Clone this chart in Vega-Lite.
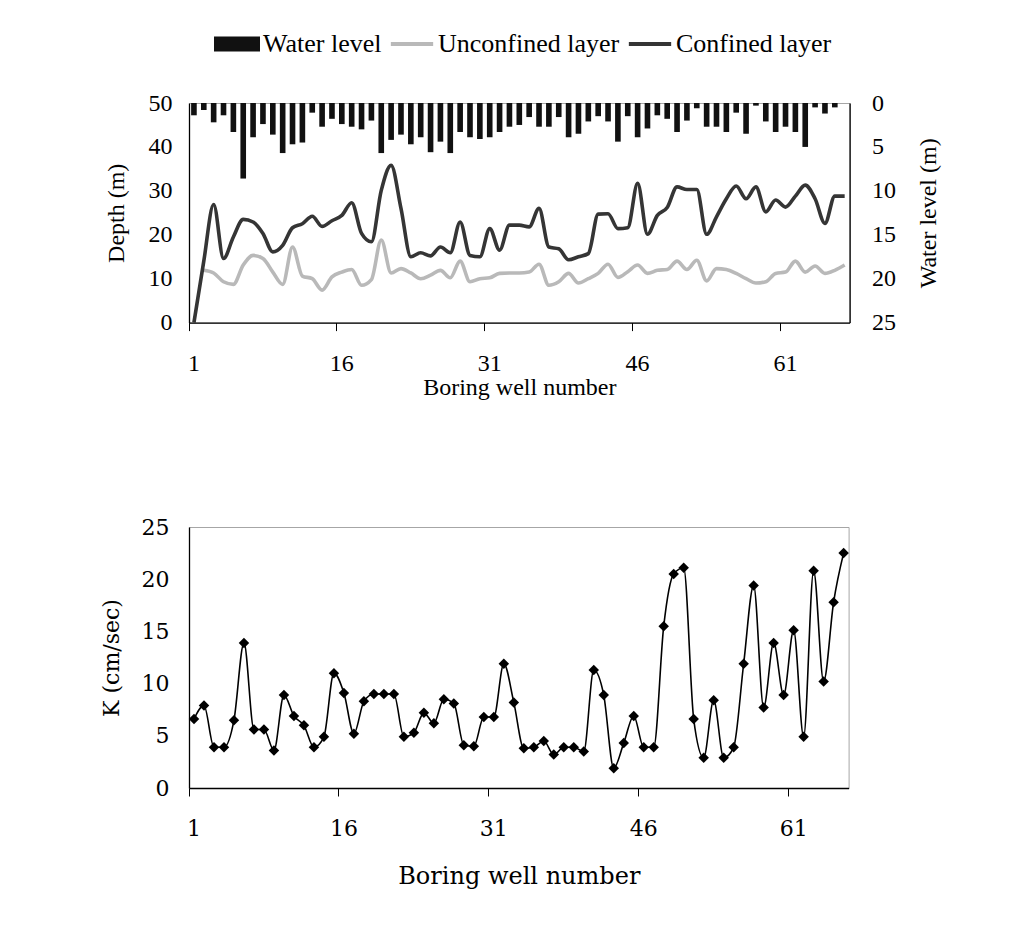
{
  "$schema": "https://vega.github.io/schema/vega-lite/v6.json",
  "background": "white",
  "padding": {"left": 99, "top": 21, "right": 10, "bottom": 10},
  "datasets": {
    "top": [
      {"well": 1, "water": 1.4, "unconfined": null, "confined": 0},
      {"well": 2, "water": 0.8, "unconfined": 11.9, "confined": 14},
      {"well": 3, "water": 2.2, "unconfined": 11.3, "confined": 26.9},
      {"well": 4, "water": 1.4, "unconfined": 9.3, "confined": 14.6},
      {"well": 5, "water": 3.3, "unconfined": 8.7, "confined": 19.5},
      {"well": 6, "water": 8.6, "unconfined": 13.1, "confined": 23.5},
      {"well": 7, "water": 3.9, "unconfined": 15.3, "confined": 22.9},
      {"well": 8, "water": 2.4, "unconfined": 14.6, "confined": 20.3},
      {"well": 9, "water": 3.6, "unconfined": 11.5, "confined": 16.1},
      {"well": 10, "water": 5.7, "unconfined": 8.7, "confined": 17.6},
      {"well": 11, "water": 4.7, "unconfined": 17.2, "confined": 21.6},
      {"well": 12, "water": 4.5, "unconfined": 10.6, "confined": 22.5},
      {"well": 13, "water": 1.1, "unconfined": 10.0, "confined": 24.2},
      {"well": 14, "water": 2.7, "unconfined": 7.4, "confined": 21.9},
      {"well": 15, "water": 1.8, "unconfined": 10.4, "confined": 23.2},
      {"well": 16, "water": 2.4, "unconfined": 11.5, "confined": 24.4},
      {"well": 17, "water": 2.7, "unconfined": 12.1, "confined": 27.3},
      {"well": 18, "water": 3.0, "unconfined": 8.5, "confined": 20.3},
      {"well": 19, "water": 2.0, "unconfined": 9.8, "confined": 18.4},
      {"well": 20, "water": 5.7, "unconfined": 18.8, "confined": 30.1},
      {"well": 21, "water": 4.2, "unconfined": 11.3, "confined": 35.8},
      {"well": 22, "water": 3.6, "unconfined": 12.3, "confined": 26},
      {"well": 23, "water": 4.7, "unconfined": 11.3, "confined": 15.0},
      {"well": 24, "water": 3.9, "unconfined": 10.0, "confined": 15.9},
      {"well": 25, "water": 5.6, "unconfined": 10.8, "confined": 15.2},
      {"well": 26, "water": 4.4, "unconfined": 11.9, "confined": 17.2},
      {"well": 27, "water": 5.7, "unconfined": 10.2, "confined": 15.9},
      {"well": 28, "water": 3.3, "unconfined": 14.0, "confined": 22.9},
      {"well": 29, "water": 3.9, "unconfined": 9.3, "confined": 15.3},
      {"well": 30, "water": 4.1, "unconfined": 10.0, "confined": 15.0},
      {"well": 31, "water": 3.9, "unconfined": 10.2, "confined": 21.4},
      {"well": 32, "water": 3.3, "unconfined": 11.2, "confined": 16.5},
      {"well": 33, "water": 2.7, "unconfined": 11.3, "confined": 22.2},
      {"well": 34, "water": 2.5, "unconfined": 11.3, "confined": 22.2},
      {"well": 35, "water": 1.6, "unconfined": 11.5, "confined": 21.8},
      {"well": 36, "water": 2.7, "unconfined": 13.3, "confined": 26.0},
      {"well": 37, "water": 2.7, "unconfined": 8.5, "confined": 17.2},
      {"well": 38, "water": 1.6, "unconfined": 9.3, "confined": 16.8},
      {"well": 39, "water": 3.9, "unconfined": 11.2, "confined": 14.3},
      {"well": 40, "water": 3.5, "unconfined": 9.0, "confined": 15.0},
      {"well": 41, "water": 2.1, "unconfined": 10.0, "confined": 15.7},
      {"well": 42, "water": 1.5, "unconfined": 11.2, "confined": 24.7},
      {"well": 43, "water": 2.1, "unconfined": 13.3, "confined": 24.8},
      {"well": 44, "water": 4.4, "unconfined": 10.3, "confined": 21.4},
      {"well": 45, "water": 1.5, "unconfined": 11.6, "confined": 21.6},
      {"well": 46, "water": 3.9, "unconfined": 13.1, "confined": 31.7},
      {"well": 47, "water": 2.9, "unconfined": 11.2, "confined": 20.1},
      {"well": 48, "water": 1.4, "unconfined": 11.9, "confined": 24.4},
      {"well": 49, "water": 1.8, "unconfined": 12.1, "confined": 26.2},
      {"well": 50, "water": 3.3, "unconfined": 14.0, "confined": 30.9},
      {"well": 51, "water": 2.0, "unconfined": 12.1, "confined": 30.3},
      {"well": 52, "water": 0.6, "unconfined": 14.2, "confined": 30.3},
      {"well": 53, "water": 2.7, "unconfined": 9.5, "confined": 20.1},
      {"well": 54, "water": 2.7, "unconfined": 12.3, "confined": 24.1},
      {"well": 55, "water": 3.3, "unconfined": 12.1, "confined": 28.2},
      {"well": 56, "water": 1.1, "unconfined": 11.2, "confined": 31.1},
      {"well": 57, "water": 3.5, "unconfined": 10.0, "confined": 28.2},
      {"well": 58, "water": 0.3, "unconfined": 9.0, "confined": 30.9},
      {"well": 59, "water": 2.1, "unconfined": 9.3, "confined": 25.2},
      {"well": 60, "water": 3.3, "unconfined": 11.2, "confined": 27.9},
      {"well": 61, "water": 2.7, "unconfined": 11.5, "confined": 26.3},
      {"well": 62, "water": 3.3, "unconfined": 14.0, "confined": 28.8},
      {"well": 63, "water": 5.0, "unconfined": 11.5, "confined": 31.3},
      {"well": 64, "water": 0.5, "unconfined": 12.9, "confined": 28.2},
      {"well": 65, "water": 1.2, "unconfined": 11.2, "confined": 22.6},
      {"well": 66, "water": 0.5, "unconfined": 11.9, "confined": 28.8},
      {"well": 67, "water": null, "unconfined": 13.1, "confined": 28.8}
    ],
    "bottom": [
      {"well": 1, "K": 6.6}, {"well": 2, "K": 7.9}, {"well": 3, "K": 3.9}, {"well": 4, "K": 3.9},
      {"well": 5, "K": 6.5}, {"well": 6, "K": 13.9}, {"well": 7, "K": 5.6}, {"well": 8, "K": 5.6},
      {"well": 9, "K": 3.6}, {"well": 10, "K": 8.9}, {"well": 11, "K": 6.9}, {"well": 12, "K": 6.0},
      {"well": 13, "K": 3.9}, {"well": 14, "K": 4.9}, {"well": 15, "K": 11.0}, {"well": 16, "K": 9.1},
      {"well": 17, "K": 5.2}, {"well": 18, "K": 8.3}, {"well": 19, "K": 9.0}, {"well": 20, "K": 9.0},
      {"well": 21, "K": 9.0}, {"well": 22, "K": 4.9}, {"well": 23, "K": 5.3}, {"well": 24, "K": 7.2},
      {"well": 25, "K": 6.2}, {"well": 26, "K": 8.5}, {"well": 27, "K": 8.1}, {"well": 28, "K": 4.1},
      {"well": 29, "K": 4.0}, {"well": 30, "K": 6.8}, {"well": 31, "K": 6.8}, {"well": 32, "K": 11.9},
      {"well": 33, "K": 8.2}, {"well": 34, "K": 3.8}, {"well": 35, "K": 3.9}, {"well": 36, "K": 4.5},
      {"well": 37, "K": 3.2}, {"well": 38, "K": 3.9}, {"well": 39, "K": 3.9}, {"well": 40, "K": 3.5},
      {"well": 41, "K": 11.3}, {"well": 42, "K": 8.9}, {"well": 43, "K": 1.9}, {"well": 44, "K": 4.3},
      {"well": 45, "K": 6.9}, {"well": 46, "K": 3.9}, {"well": 47, "K": 3.9}, {"well": 48, "K": 15.5},
      {"well": 49, "K": 20.5}, {"well": 50, "K": 21.1}, {"well": 51, "K": 6.6}, {"well": 52, "K": 2.9},
      {"well": 53, "K": 8.4}, {"well": 54, "K": 2.9}, {"well": 55, "K": 3.9}, {"well": 56, "K": 11.9},
      {"well": 57, "K": 19.4}, {"well": 58, "K": 7.7}, {"well": 59, "K": 13.9}, {"well": 60, "K": 8.9},
      {"well": 61, "K": 15.1}, {"well": 62, "K": 4.9}, {"well": 63, "K": 20.8}, {"well": 64, "K": 10.2},
      {"well": 65, "K": 17.8}, {"well": 66, "K": 22.5}
    ]
  },
  "spacing": 114,
  "vconcat": [
    {
      "width": 660.6,
      "height": 219.6,
      "data": {"name": "top"},
      "layer": [
        {
          "mark": {"type": "bar", "width": {"band": 0.57}},
          "encoding": {
            "x": {
              "field": "well", "type": "ordinal",
              "scale": {"type": "band", "paddingInner": 0, "paddingOuter": 0},
              "axis": {
                "values": [1, 16, 31, 46, 61], "bandPosition": 0, "labelAngle": 0,
                "title": "Boring well number", "titleFont": "Liberation Serif", "titleFontSize": 24,
                "titlePadding": 0, "labelFont": "Liberation Serif", "labelFontSize": 24,
                "labelPadding": 21, "tickSize": 8, "tickColor": "black"
              }
            },
            "y": {
              "field": "water", "type": "quantitative",
              "scale": {"domain": [0, 25], "reverse": true, "nice": false},
              "axis": {
                "orient": "right", "title": "Water level (m)", "values": [0, 5, 10, 15, 20, 25],
                "ticks": false, "labelPadding": 22, "labelFont": "Liberation Serif", "labelFontSize": 24,
                "titleFont": "Liberation Serif", "titleFontSize": 24, "titleAngle": 270,
                "titleBaseline": "top", "titlePadding": 21
              }
            },
            "color": {
              "datum": "Water level", "type": "nominal",
              "scale": {
                "domain": ["Water level", "Unconfined layer", "Confined layer"],
                "range": ["#111111", "#b9b9b9", "#353535"]
              },
              "legend": {
                "orient": "none", "legendX": 25, "legendY": -82, "direction": "horizontal",
                "title": null, "labelFont": "Liberation Serif", "labelFontSize": 26, "labelColor": "black",
                "labelLimit": 0, "symbolSize": 2116, "labelOffset": 3, "columnPadding": 7,
                "encode": {
                  "symbols": {
                    "update": {
                      "shape": {"signal": "datum.value === 'Water level' ? 'M-1,-0.33H1V0.33H-1Z' : 'M-0.92,-0.09H0.92V0.09H-0.92Z'"},
                      "fill": {"signal": "datum.value === 'Water level' ? '#111111' : datum.value === 'Unconfined layer' ? '#b9b9b9' : '#353535'"},
                      "stroke": {"value": "transparent"},
                      "strokeWidth": {"value": 0}
                    }
                  }
                }
              }
            }
          }
        },
        {
          "mark": {"type": "line", "interpolate": "monotone", "strokeWidth": 3.6},
          "encoding": {
            "x": {"field": "well", "type": "ordinal"},
            "y": {
              "field": "unconfined", "type": "quantitative",
              "scale": {"domain": [0, 50], "nice": false},
              "axis": {
                "orient": "left", "title": "Depth (m)", "values": [0, 10, 20, 30, 40, 50],
                "ticks": false, "labelPadding": 17, "labelFont": "Liberation Serif", "labelFontSize": 24,
                "titleFont": "Liberation Serif", "titleFontSize": 24, "titlePadding": 20
              }
            },
            "color": {"datum": "Unconfined layer", "type": "nominal"}
          }
        },
        {
          "mark": {"type": "line", "interpolate": "monotone", "strokeWidth": 3.6},
          "encoding": {
            "x": {"field": "well", "type": "ordinal"},
            "y": {
              "field": "confined", "type": "quantitative",
              "scale": {"domain": [0, 50], "nice": false},
              "axis": null
            },
            "color": {"datum": "Confined layer", "type": "nominal"}
          }
        }
      ],
      "resolve": {"scale": {"y": "independent"}}
    },
    {
      "width": 659.6,
      "height": 261,
      "data": {"name": "bottom"},
      "encoding": {
        "x": {
          "field": "well", "type": "ordinal",
          "scale": {"type": "band", "paddingInner": 0, "paddingOuter": 0},
          "axis": {
            "values": [1, 16, 31, 46, 61], "bandPosition": 0, "labelAngle": 0,
            "title": "Boring well number", "titleFont": "DejaVu Serif", "titleFontSize": 24,
            "titlePadding": 25, "labelFont": "DejaVu Serif", "labelFontSize": 22,
            "labelPadding": 22, "tickSize": 8, "tickColor": "black"
          }
        },
        "y": {
          "field": "K", "type": "quantitative",
          "scale": {"domain": [0, 25], "nice": false},
          "axis": {
            "title": "K (cm/sec)", "values": [0, 5, 10, 15, 20, 25], "ticks": false,
            "labelPadding": 20, "labelFont": "DejaVu Serif", "labelFontSize": 22,
            "titleFont": "DejaVu Serif", "titleFontSize": 22, "titlePadding": 18
          }
        }
      },
      "layer": [
        {"mark": {"type": "line", "interpolate": "monotone", "color": "black", "strokeWidth": 1.6}},
        {"mark": {"type": "point", "shape": "diamond", "filled": true, "color": "black", "size": 110, "opacity": 1}}
      ]
    }
  ],
  "config": {
    "view": {"stroke": "#a6a6a6", "strokeWidth": 1},
    "axis": {
      "grid": false, "domainColor": "black", "domainWidth": 1.3, "labelColor": "black",
      "titleColor": "black", "titleFontWeight": "normal"
    }
  }
}
